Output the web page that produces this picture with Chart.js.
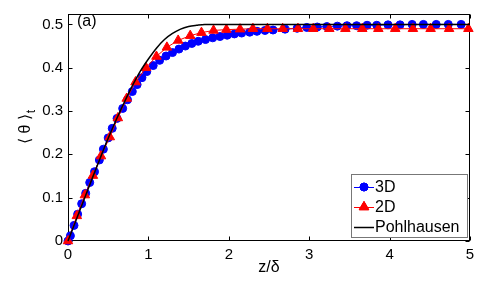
<!DOCTYPE html>
<html><head><meta charset="utf-8">
<script src="https://cdn.jsdelivr.net/npm/chart.js@4/dist/chart.umd.min.js"></script>
<style>html,body{margin:0;padding:0;background:#fff}</style>
</head><body>
<canvas id="c" width="490" height="283" style="width:490px;height:283px;display:block"></canvas>
<script>
const seriesNames = ['3D', '2D', 'Pohlhausen'];
const x3D = [0, 0.03, 0.075, 0.12, 0.17, 0.22, 0.27, 0.33, 0.39, 0.44, 0.50, 0.55, 0.61, 0.68, 0.74, 0.80, 0.86, 0.92, 0.98, 1.06, 1.14, 1.22, 1.30, 1.38, 1.46, 1.54, 1.62, 1.71, 1.80, 1.89, 1.98, 2.07, 2.16, 2.26, 2.35, 2.45, 2.55, 2.70, 2.85, 2.97, 3.10, 3.22, 3.35, 3.47, 3.59, 3.72, 3.84, 3.98, 4.13, 4.28, 4.42, 4.58, 4.73, 4.89];
const y3D = [0, 0.012, 0.036, 0.062, 0.086, 0.110, 0.135, 0.160, 0.187, 0.212, 0.238, 0.260, 0.283, 0.306, 0.326, 0.345, 0.361, 0.377, 0.391, 0.405, 0.417, 0.427, 0.435, 0.443, 0.450, 0.456, 0.461, 0.465, 0.469, 0.472, 0.475, 0.478, 0.480, 0.482, 0.484, 0.486, 0.487, 0.489, 0.491, 0.493, 0.494, 0.495, 0.496, 0.497, 0.497, 0.498, 0.498, 0.499, 0.499, 0.500, 0.500, 0.500, 0.500, 0.500];
const x2D = [0, 0.11, 0.21, 0.31, 0.41, 0.52, 0.62, 0.73, 0.84, 0.97, 1.10, 1.23, 1.37, 1.52, 1.66, 1.81, 1.97, 2.14, 2.30, 2.48, 2.67, 2.86, 3.05, 3.25, 3.45, 3.66, 3.86, 4.07, 4.29, 4.51, 4.74, 4.98];
const y2D = [0, 0.058, 0.106, 0.151, 0.196, 0.240, 0.284, 0.329, 0.367, 0.400, 0.426, 0.447, 0.463, 0.474, 0.481, 0.486, 0.488, 0.489, 0.490, 0.490, 0.490, 0.490, 0.490, 0.490, 0.490, 0.490, 0.490, 0.490, 0.490, 0.490, 0.490, 0.490];
const xPohl = [0, 0.1, 0.2, 0.3, 0.4, 0.5, 0.6, 0.7, 0.8, 0.9, 1.0, 1.1, 1.2, 1.3, 1.4, 1.5, 1.6, 1.7, 5.0];
const yPohl = [0, 0.048, 0.096, 0.144, 0.191, 0.237, 0.280, 0.320, 0.358, 0.392, 0.420, 0.445, 0.465, 0.479, 0.489, 0.495, 0.498, 0.500, 0.500];
const xTicks = [0, 1, 2, 3, 4, 5];
const xTickLabels = ['0', '1', '2', '3', '4', '5'];
const yTicks = [0, 0.1, 0.2, 0.3, 0.4, 0.5];
const yTickLabels = ['0', '0.1', '0.2', '0.3', '0.4', '0.5'];

const FONT = '"Liberation Sans", Arial, Helvetica, sans-serif';
const pts = (xs, ys) => xs.map((v, i) => ({x: v, y: ys[i]}));

const frame = {
  id: 'frame',
  beforeDatasetsDraw(chart) {
    const {ctx, chartArea: a, scales: {x, y}} = chart;
    ctx.save();
    ctx.strokeStyle = '#000';
    ctx.lineWidth = 1;
    const L = Math.round(a.left) + 0.5, R = Math.round(a.right) - 0.5;
    const T = Math.round(a.top) + 0.5, B = Math.round(a.bottom) - 0.5;
    ctx.strokeRect(L, T, R - L, B - T);
    ctx.beginPath();
    xTicks.forEach(v => {
      const p = Math.round(x.getPixelForValue(v)) + 0.5;
      ctx.moveTo(p, B); ctx.lineTo(p, B - 4);
      ctx.moveTo(p, T); ctx.lineTo(p, T + 4);
    });
    yTicks.forEach(v => {
      const p = Math.round(y.getPixelForValue(v)) + 0.5;
      ctx.moveTo(L, p); ctx.lineTo(L + 4, p);
      ctx.moveTo(R, p); ctx.lineTo(R - 4, p);
    });
    ctx.stroke();
    ctx.restore();
  },
  afterDraw(chart) {
    const {ctx, chartArea: a} = chart;
    ctx.save();
    ctx.fillStyle = '#000';
    ctx.font = '16px ' + FONT;
    ctx.textBaseline = 'middle';
    ctx.textAlign = 'left';
    ctx.fillText('(a)', 77, 22);
    ctx.save();
    ctx.translate(26, (a.top + a.bottom) / 2);
    ctx.rotate(-Math.PI / 2);
    ctx.font = '16px ' + FONT;
    const main = '\u27E8 \u03B8 \u27E9';
    const wm = ctx.measureText(main).width;
    ctx.font = '12px ' + FONT;
    const ws = ctx.measureText('t').width;
    const start = -(wm + ws) / 2;
    ctx.font = '16px ' + FONT;
    ctx.textAlign = 'left';
    ctx.textBaseline = 'middle';
    ctx.fillText(main, start, 0);
    ctx.font = '12px ' + FONT;
    ctx.fillText('t', start + wm + 1, 6);
    ctx.restore();
    const bx = 351.5, by = 174.5, bw = 116, bh = 63;
    ctx.fillStyle = '#fff';
    ctx.fillRect(bx, by, bw, bh);
    ctx.strokeStyle = '#777';
    ctx.lineWidth = 1;
    ctx.strokeRect(bx, by, bw, bh);
    const rows = [187, 207, 227];
    const ds = chart.data.datasets;
    ctx.font = '16px ' + FONT;
    ctx.textBaseline = 'middle';
    ctx.textAlign = 'left';
    rows.forEach((ry, i) => {
      const d = ds[i];
      ctx.strokeStyle = d.borderColor;
      ctx.lineWidth = d.borderWidth;
      ctx.beginPath(); ctx.moveTo(354, ry + 0.5); ctx.lineTo(374, ry + 0.5); ctx.stroke();
      if (d.pointRadius > 0) {
        Chart.helpers.drawPoint(ctx, {pointStyle: d.pointStyle, radius: d.pointRadius, borderWidth: 1, rotation: 0}, 364, ry);
        ctx.fillStyle = d.pointBackgroundColor;
        ctx.strokeStyle = d.pointBorderColor;
        ctx.fill(); ctx.stroke();
      }
      ctx.fillStyle = '#000';
      ctx.fillText(d.label, 375, ry + 1);
    });
    ctx.restore();
  }
};

new Chart(document.getElementById('c'), {
  type: 'scatter',
  data: {
    datasets: [
      {label: seriesNames[0], data: pts(x3D, y3D), showLine: true, borderColor: '#0000ff', borderWidth: 1,
       pointStyle: 'circle', pointRadius: 4, pointBackgroundColor: '#0000ff', pointBorderColor: '#0000ff', pointBorderWidth: 1, clip: false, order: 2},
      {label: seriesNames[1], data: pts(x2D, y2D), showLine: true, borderColor: '#ff0000', borderWidth: 1,
       pointStyle: 'triangle', pointRadius: 5.5, pointBackgroundColor: '#ff0000', pointBorderColor: '#ff0000', pointBorderWidth: 1, clip: false, order: 1},
      {label: seriesNames[2], data: pts(xPohl, yPohl), showLine: true, borderColor: '#000000', borderWidth: 1.5,
       pointRadius: 0, cubicInterpolationMode: 'monotone', tension: 0.4, clip: false, order: 0}
    ]
  },
  options: {
    responsive: false,
    animation: false,
    devicePixelRatio: 1,
    layout: {padding: {top: 8, right: 20, left: 0, bottom: 0}},
    plugins: {legend: {display: false}, tooltip: {enabled: false}},
    scales: {
      x: {
        type: 'linear', min: 0, max: 5,
        afterBuildTicks: s => { s.ticks = xTicks.map(v => ({value: v})); },
        afterFit: s => { s.height = 42; },
        grid: {display: false, drawTicks: false},
        border: {display: false},
        ticks: {padding: 5, color: '#000', font: {family: FONT, size: 15},
                callback: (v) => xTickLabels[xTicks.indexOf(v)]},
        title: {display: true, text: 'z/\u03B4', color: '#000', font: {family: FONT, size: 16}, padding: {top: 0, bottom: 6}}
      },
      y: {
        type: 'linear', min: 0, max: 0.524,
        afterBuildTicks: s => { s.ticks = yTicks.map(v => ({value: v})); },
        afterFit: s => { s.width = 68; },
        grid: {display: false, drawTicks: false},
        border: {display: false},
        ticks: {padding: 5, color: '#000', font: {family: FONT, size: 15},
                callback: (v) => yTickLabels[yTicks.indexOf(v)]}
      }
    }
  },
  plugins: [frame]
});
</script>
</body></html>
